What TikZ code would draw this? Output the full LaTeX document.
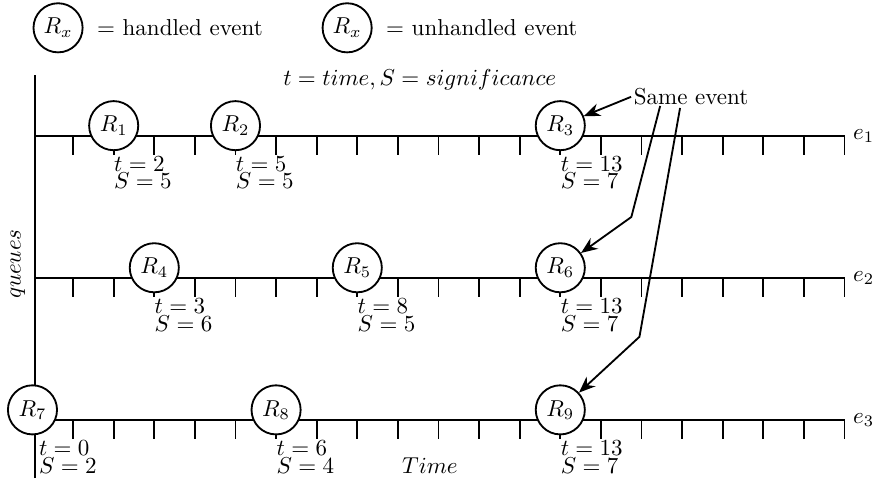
\documentclass[tikz,border=0pt]{standalone}
\usepackage{amsmath}
\usepackage{tikz}
\usetikzlibrary{arrows.meta, positioning, calc}
\tikzset{
    evnode/.style={circle, draw, thick, fill=white, minimum size=7.5mm, inner sep=0.5pt},
    infonode/.style={anchor=north west, inner sep=0pt, align=left},
    qline/.style={thick},
    ptr/.style={thick, -{Stealth[length=2.5mm, width=2mm]}},
}

\begin{document}
\begin{tikzpicture}[x=0.62cm, y=0.62cm]
    \useasboundingbox (-0.8,-1.576) rectangle (20.85,10.345);
    % queues and time ticks
    \draw[qline] (0.07,-1.43) -- (0.07,8.5);
    \foreach \y/\e in {7/1, 3.5/2, 0/3} {
        \draw[qline] (0.07,\y) -- (20,\y) node[right] (e\e) {$e_{\e}$};
        \foreach \x in {1,...,20}
            \draw[qline] (\x,\y) -- (\x,\y-0.47);
    }
    % events (n / time / queue / significance / label shift)
    \foreach \n/\t/\y/\s/\d in {1/2/7/5/0, 2/5/7/5/0, 3/13/7/7/0, 4/3/3.5/6/0, 5/8/3.5/5/0,
                                6/13/3.5/7/0, 7/0/0/2/0.15, 8/6/0/4/0, 9/13/0/7/0} {
        \node[evnode] (R\n) at (\t,\y+0.25) {$R_{\n}$};
        \node[infonode] (info\n) at (\t+\d,\y-0.5) {$t = \t$\\[-4.4pt]$S = \s$};
    }
    % legend
    \node[evnode] (hleg) at (0.63,9.66) {$R_x$};
    \node[right=2mm of hleg, inner sep=0pt] (htxt) {$=$ handled event};
    \node[evnode] (uleg) at (7.75,9.66) {$R_x$};
    \node[right=2mm of uleg, inner sep=0pt] (utxt) {$=$ unhandled event};
    % labels
    \node (tdesc) at (9.54,8.37) {$t = time, S = significance$};
    \node[rotate=90] (qlab) at (-0.36,3.84) {$queues$};
    \node (tlab) at (9.79,-1.13) {$Time$};
    \node[inner sep=1pt] (same) at (16.22,7.96) {Same event};
    % same event pointers
    \coordinate (b1) at (14.75,5);
    \coordinate (b2) at (14.95,2.05);
    \draw[ptr] (same.west) -- (R3);
    \draw[ptr] ($(same.south)+(-0.76,0.05)$) -- (b1) -- (R6);
    \draw[ptr] ($(same.south)+(-0.27,0)$) -- (b2) -- (R9);
\end{tikzpicture}
\end{document}
